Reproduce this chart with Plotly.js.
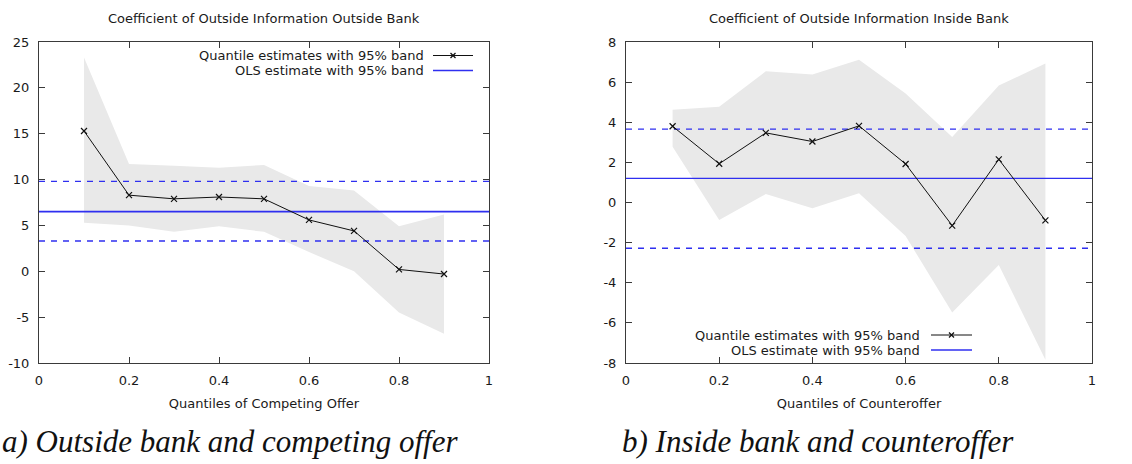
<!DOCTYPE html>
<html>
<head>
<meta charset="utf-8">
<script src="https://cdn.plot.ly/plotly-3.0.1.min.js"></script>
<style>html,body{margin:0;padding:0;background:#fff;}#chart{width:1132px;height:464px;}</style>
</head>
<body>
<div id="chart"></div>
<script>
// ---- data ----
const quantiles = [0.1, 0.2, 0.3, 0.4, 0.5, 0.6, 0.7, 0.8, 0.9];

// a) Outside bank and competing offer
const outsideEst   = [15.3, 8.3, 7.9, 8.1, 7.9, 5.6, 4.4, 0.2, -0.3];
const outsideUpper = [23.3, 11.7, 11.5, 11.3, 11.6, 9.3, 8.8, 4.9, 6.2];
const outsideLower = [5.3, 5.0, 4.3, 4.9, 4.3, 2.1, 0.0, -4.5, -6.8];
const outsideOLS   = [6.5, 3.3, 9.8];   // estimate, lower, upper

// b) Inside bank and counteroffer
const insideEst   = [3.8, 1.93, 3.47, 3.04, 3.82, 1.92, -1.15, 2.15, -0.89];
const insideUpper = [4.62, 4.77, 6.54, 6.38, 7.12, 5.43, 3.26, 5.83, 6.93];
const insideLower = [2.78, -0.87, 0.42, -0.29, 0.46, -1.67, -5.48, -3.11, -7.84];
const insideOLS   = [1.2, -2.28, 3.66];

// tick labels
const xTickVals = [0, 0.2, 0.4, 0.6, 0.8, 1];
const xTickText = ["0", "0.2", "0.4", "0.6", "0.8", "1"];
const yTickValsA = [-10, -5, 0, 5, 10, 15, 20, 25];
const yTickTextA = ["-10", "-5", "0", "5", "10", "15", "20", "25"];
const yTickValsB = [-8, -6, -4, -2, 0, 2, 4, 6, 8];
const yTickTextB = ["-8", "-6", "-4", "-2", "0", "2", "4", "6", "8"];

const titles = ["Coefficient of Outside Information Outside Bank", "Coefficient of Outside Information Inside Bank"];
const xTitles = ["Quantiles of Competing Offer", "Quantiles of Counteroffer"];
const captions = ["a) Outside bank and competing offer", "b) Inside bank and counteroffer"];
const legendLabels = ["Quantile estimates with 95% band", "OLS estimate with 95% band"];

// ---- styling ----
const W = 1132, H = 464;
const px = x => x / W, py = y => 1 - y / H;
const FONT = "DejaVu Sans, Verdana, sans-serif";
const TXT = "#1a1a1a";
const BAND = "#e9e9e9";
const BLUE = "#2f2ff0";
const AX = "#3a3a3a";

function panelTraces(est, up, lo, ols, xa, ya, olsW) {
  const xr = [0, 1];
  return [
    {x: quantiles, y: lo, xaxis: xa, yaxis: ya, mode: "lines", line: {width: 0, color: BAND}, hoverinfo: "skip", showlegend: false},
    {x: quantiles, y: up, xaxis: xa, yaxis: ya, mode: "lines", line: {width: 0, color: BAND}, fill: "tonexty", fillcolor: BAND, hoverinfo: "skip", showlegend: false},
    {x: xr, y: [ols[1], ols[1]], xaxis: xa, yaxis: ya, mode: "lines", line: {color: BLUE, width: 1.3, dash: "6px,6px"}, showlegend: false},
    {x: xr, y: [ols[2], ols[2]], xaxis: xa, yaxis: ya, mode: "lines", line: {color: BLUE, width: 1.3, dash: "6px,6px"}, showlegend: false},
    {x: xr, y: [ols[0], ols[0]], xaxis: xa, yaxis: ya, mode: "lines", line: {color: BLUE, width: olsW}, showlegend: false},
    {x: quantiles, y: est, xaxis: xa, yaxis: ya, mode: "lines+markers", line: {color: "#111", width: 1},
      marker: {symbol: "x-thin", size: 6, line: {color: "#111", width: 1.2}}, showlegend: false}
  ];
}

const data = [
  ...panelTraces(outsideEst, outsideUpper, outsideLower, outsideOLS, "x", "y", 1.8),
  ...panelTraces(insideEst, insideUpper, insideLower, insideOLS, "x2", "y2", 1.2)
];

function xAxis(domain, anchor, title) {
  return {domain, anchor, range: [0, 1], tickvals: xTickVals, ticktext: xTickText,
    ticks: "inside", ticklen: 6, tickcolor: AX, tickwidth: 1, showline: true, linecolor: AX, linewidth: 1, mirror: "ticks",
    showgrid: false, zeroline: false, fixedrange: true, ticklabelstandoff: 5,
    tickfont: {family: FONT, size: 13, color: TXT},
    title: {text: title, font: {family: FONT, size: 13, color: TXT}, standoff: 12}};
}
function yAxis(domain, anchor, range, vals, text) {
  return {domain, anchor, range, tickvals: vals, ticktext: text,
    ticks: "inside", ticklen: 6, tickcolor: AX, tickwidth: 1, showline: true, linecolor: AX, linewidth: 1, mirror: "ticks",
    showgrid: false, zeroline: false, fixedrange: true, ticklabelstandoff: 6,
    tickfont: {family: FONT, size: 13, color: TXT}};
}

const yDom = [1 - 363 / H, 1 - 42 / H];
const annotations = [];
const shapes = [];

// panel geometry in pixels (for titles/legends)
const panels = [
  {x0: 39, x1: 489, legRight: 426, legLine: [433, 473], legY: [55.5, 70.5], capX: 0},
  {x0: 626, x1: 1092, legRight: 922, legLine: [931, 972], legY: [335, 350], capX: 620}
];

panels.forEach((p, i) => {
  annotations.push({xref: "paper", yref: "paper", x: px((p.x0 + p.x1) / 2), y: py(18), text: titles[i], showarrow: false,
    xanchor: "center", yanchor: "middle", font: {family: FONT, size: 13, color: TXT}});
  legendLabels.forEach((lab, j) => {
    annotations.push({xref: "paper", yref: "paper", x: px(p.legRight), y: py(p.legY[j]), text: lab, showarrow: false,
      xanchor: "right", yanchor: "middle", font: {family: FONT, size: 13, color: TXT}});
    shapes.push({type: "line", xref: "paper", yref: "paper", x0: px(p.legLine[0]), x1: px(p.legLine[1]), y0: py(p.legY[j]), y1: py(p.legY[j]),
      line: {color: j === 0 ? "#111" : BLUE, width: j === 0 ? 1 : 1.3}});
  });
  const cx = (p.legLine[0] + p.legLine[1]) / 2, cy = p.legY[0], d = 2.5;
  shapes.push({type: "line", xref: "paper", yref: "paper", x0: px(cx - d), x1: px(cx + d), y0: py(cy - d), y1: py(cy + d), line: {color: "#111", width: 1.2}});
  shapes.push({type: "line", xref: "paper", yref: "paper", x0: px(cx - d), x1: px(cx + d), y0: py(cy + d), y1: py(cy - d), line: {color: "#111", width: 1.2}});
  annotations.push({xref: "paper", yref: "paper", x: px(p.capX), y: py(441), text: "<i>" + captions[i] + "</i>", showarrow: false,
    xanchor: "left", yanchor: "middle", font: {family: "Liberation Serif, Times New Roman, serif", size: 31, color: "#111"}});
});

const layout = {
  width: W, height: H, margin: {l: 0, r: 0, t: 0, b: 0},
  paper_bgcolor: "#fff", plot_bgcolor: "#fff", showlegend: false,
  xaxis: xAxis([39 / W, 489 / W], "y", xTitles[0]),
  yaxis: yAxis(yDom, "x", [-10, 25], yTickValsA, yTickTextA),
  xaxis2: xAxis([626 / W, 1092 / W], "y2", xTitles[1]),
  yaxis2: yAxis(yDom, "x2", [-8, 8], yTickValsB, yTickTextB),
  annotations, shapes
};

Plotly.newPlot("chart", data, layout, {displayModeBar: false, staticPlot: true});
</script>
</body>
</html>
